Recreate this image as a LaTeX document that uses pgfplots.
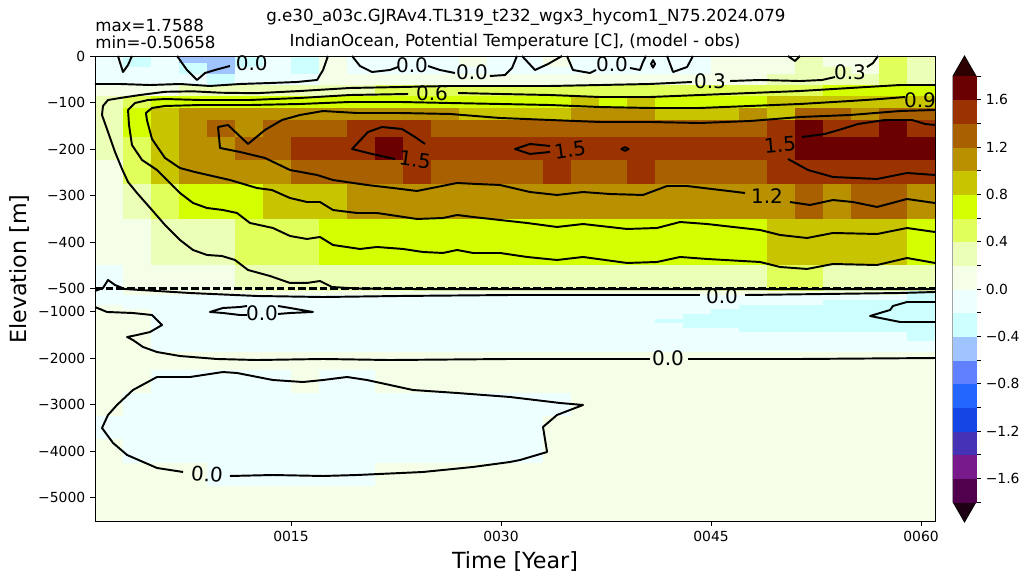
\documentclass[border=0pt]{standalone}
\usepackage{fontspec}
\setmainfont{DejaVu Sans}
\usepackage{pgfplots}
\usepackage{pgfplotstable}
\pgfplotsset{compat=1.18}

\definecolor{cbtop}{RGB}{45,0,0}
\definecolor{cbbot}{RGB}{30,0,20}

% discrete levels from -1.8 to 1.8 in steps of 0.2
\pgfplotsset{
  colormap={tdiff}{
    rgb255=(80,0,76) rgb255=(120,26,140) rgb255=(70,50,180) rgb255=(20,70,230)
    rgb255=(34,102,255) rgb255=(96,128,255) rgb255=(160,196,255) rgb255=(205,255,255)
    rgb255=(238,255,255) rgb255=(245,255,232) rgb255=(235,255,182) rgb255=(224,255,90)
    rgb255=(212,255,0) rgb255=(200,196,0) rgb255=(184,144,0) rgb255=(168,96,0)
    rgb255=(154,51,0) rgb255=(107,0,0)},
  cell/.style={scatter, only marks, mark=square*, mark size=0.5pt,
    scatter/use mapped color={draw=mapped color, fill=mapped color},
    line width=0.3pt},
  isoline/.style={black, line width=1.4pt, line join=round, mark=none},
}
\tikzset{clab/.style={font=\fontsize{14.4}{17}\selectfont, inner sep=0pt}}

% temperature difference: one line per depth level, one column per 2-year bin (centre year)
\pgfplotstableread{
d 2 4 6 8 10 12 14 16 18 20 22 24 26 28 30 32 34 36 38 40 42 44 46 48 50 52 54 56 58 60
r0 -0.1 -0.3 -0.1 -0.5 -0.5 -0.3 -0.1 -0.3 0.1 -0.1 -0.1 -0.1 -0.1 0.1 -0.1 -0.1 0.1 -0.1 -0.1 -0.1 -0.1 -0.1 0.1 0.1 0.1 0.3 0.1 0.1 0.5 0.3
r1 -0.1 -0.3 -0.1 -0.5 -0.5 -0.3 -0.1 -0.3 0.1 -0.1 -0.1 -0.1 -0.1 0.1 -0.1 -0.1 0.1 -0.1 -0.1 -0.1 -0.1 -0.1 0.1 0.1 0.1 0.3 0.1 0.1 0.5 0.3
r2 -0.1 -0.3 -0.1 -0.3 -0.5 -0.3 -0.1 -0.3 0.1 -0.1 -0.1 -0.1 -0.1 0.1 -0.1 -0.1 0.1 -0.1 -0.1 -0.1 -0.1 -0.1 0.1 0.1 0.1 0.3 0.1 0.1 0.5 0.3
r3 -0.1 -0.1 -0.1 -0.3 -0.5 -0.1 -0.1 -0.3 0.1 -0.1 -0.1 -0.1 -0.1 -0.1 -0.1 -0.1 -0.1 -0.1 -0.1 -0.1 -0.1 -0.1 0.1 0.1 0.1 0.3 0.3 0.1 0.5 0.3
r4 -0.1 -0.1 -0.1 -0.1 -0.3 -0.1 -0.1 -0.1 0.1 0.1 0.1 0.1 0.1 0.1 0.1 0.1 0.1 0.1 0.1 0.1 0.1 0.1 0.1 0.1 0.3 0.3 0.3 0.3 0.5 0.3
r5 0.1 0.1 0.1 0.3 0.3 0.3 0.3 0.3 0.3 0.3 0.5 0.5 0.5 0.5 0.5 0.5 0.5 0.5 0.5 0.5 0.5 0.5 0.5 0.5 0.5 0.5 0.7 0.7 0.7 0.7
r6 0.3 0.5 0.7 0.7 0.7 0.7 0.7 0.7 0.7 0.7 0.7 0.7 0.7 0.7 0.7 0.7 0.7 0.9 0.7 0.9 0.7 0.7 0.7 0.7 0.9 0.9 0.9 0.9 0.9 0.9
r7 0.3 0.7 0.9 1.1 1.1 1.1 1.1 1.1 1.1 1.1 1.1 1.1 1.1 0.9 0.9 0.9 0.9 1.1 1.1 1.1 0.9 0.9 0.9 1.1 0.9 1.3 1.3 1.1 1.3 1.3
r8 0.3 0.7 0.9 1.1 1.3 1.1 1.3 1.3 1.3 1.5 1.5 1.5 1.3 1.3 1.3 1.3 1.3 1.3 1.3 1.3 1.3 1.3 1.3 1.3 1.5 1.7 1.5 1.5 1.7 1.5
r9 0.3 0.5 0.9 1.1 1.1 1.3 1.3 1.5 1.5 1.5 1.7 1.5 1.5 1.5 1.5 1.5 1.5 1.5 1.5 1.5 1.5 1.5 1.5 1.5 1.5 1.7 1.7 1.7 1.7 1.7
r10 0.1 0.5 0.9 1.1 1.1 1.1 1.1 1.3 1.3 1.3 1.3 1.5 1.3 1.3 1.3 1.3 1.5 1.3 1.3 1.5 1.3 1.3 1.3 1.3 1.5 1.5 1.5 1.5 1.5 1.5
r11 0.1 0.3 0.5 0.7 0.7 0.7 0.9 0.9 0.9 1.1 1.1 1.1 1.1 1.1 1.1 1.1 1.1 1.1 1.1 1.1 1.1 1.1 1.1 1.1 1.1 1.3 1.1 1.3 1.3 1.1
r12 0.1 0.1 0.3 0.3 0.3 0.5 0.5 0.5 0.7 0.7 0.7 0.7 0.7 0.7 0.7 0.7 0.7 0.7 0.7 0.7 0.7 0.7 0.7 0.7 0.9 0.9 0.9 0.9 0.9 0.7
r13 -0.1 0.1 0.1 0.1 0.1 0.3 0.3 0.3 0.3 0.3 0.3 0.3 0.3 0.3 0.3 0.3 0.3 0.3 0.3 0.3 0.3 0.3 0.3 0.3 0.5 0.5 0.3 0.3 0.3 0.3
r14 -0.1 0.1 0.1 0.1 0.1 0.1 0.1 0.1 0.1 0.1 0.1 0.1 0.1 0.1 0.1 0.1 0.1 0.1 0.1 0.1 0.1 0.1 0.1 0.1 0.1 0.1 0.1 0.1 0.1 -0.3
r15 -0.1 -0.1 -0.1 -0.1 -0.1 -0.1 -0.1 -0.1 -0.1 -0.1 -0.1 -0.1 -0.1 -0.1 -0.1 -0.1 -0.1 -0.1 -0.1 -0.1 -0.1 -0.1 -0.1 -0.1 -0.1 -0.1 -0.1 -0.1 -0.1 -0.3
r16 -0.1 -0.1 -0.1 -0.1 -0.1 -0.1 -0.1 -0.1 -0.1 -0.1 -0.1 -0.1 -0.1 -0.1 -0.1 -0.1 -0.1 -0.1 -0.1 -0.1 -0.1 -0.1 -0.1 -0.1 -0.1 -0.1 -0.3 -0.3 -0.3 -0.3
r17 0.1 -0.1 -0.1 -0.1 -0.1 -0.1 -0.1 -0.1 -0.1 -0.1 -0.1 -0.1 -0.1 -0.1 -0.1 -0.1 -0.1 -0.1 -0.1 -0.1 -0.1 -0.1 -0.1 -0.3 -0.3 -0.3 -0.3 -0.3 -0.3 -0.3
r18 0.1 0.1 -0.1 -0.1 -0.1 -0.1 -0.1 -0.1 -0.1 -0.1 -0.1 -0.1 -0.1 -0.1 -0.1 -0.1 -0.1 -0.1 -0.1 -0.1 -0.1 -0.1 -0.3 -0.3 -0.3 -0.3 -0.3 -0.3 -0.3 -0.3
r19 0.1 0.1 -0.1 -0.1 -0.1 -0.1 -0.1 -0.1 -0.1 -0.1 -0.1 -0.1 -0.1 -0.1 -0.1 -0.1 -0.1 -0.1 -0.1 -0.1 -0.1 -0.3 -0.3 -0.3 -0.3 -0.3 -0.3 -0.3 -0.3 -0.3
r20 0.1 0.1 -0.1 -0.1 -0.1 -0.1 -0.1 -0.1 -0.1 -0.1 -0.1 -0.1 -0.1 -0.1 -0.1 -0.1 -0.1 -0.1 -0.1 -0.1 -0.3 -0.3 -0.3 -0.3 -0.3 -0.3 -0.3 -0.3 -0.3 -0.3
r21 0.1 0.1 -0.1 -0.1 -0.1 -0.1 -0.1 -0.1 -0.1 -0.1 -0.1 -0.1 -0.1 -0.1 -0.1 -0.1 -0.1 -0.1 -0.1 -0.1 -0.1 -0.3 -0.3 -0.3 -0.3 -0.3 -0.3 -0.3 -0.3 -0.3
r22 0.1 0.1 -0.1 -0.1 -0.1 -0.1 -0.1 -0.1 -0.1 -0.1 -0.1 -0.1 -0.1 -0.1 -0.1 -0.1 -0.1 -0.1 -0.1 -0.1 -0.1 -0.1 -0.1 -0.3 -0.3 -0.3 -0.3 -0.3 -0.3 -0.3
r23 0.1 0.1 -0.1 -0.1 -0.1 -0.1 -0.1 -0.1 -0.1 -0.1 -0.1 -0.1 -0.1 -0.1 -0.1 -0.1 -0.1 -0.1 -0.1 -0.1 -0.1 -0.1 -0.1 -0.1 -0.1 -0.1 -0.1 -0.1 -0.1 -0.3
r24 0.1 0.1 -0.1 -0.1 -0.1 -0.1 -0.1 -0.1 -0.1 -0.1 -0.1 -0.1 -0.1 -0.1 -0.1 -0.1 -0.1 -0.1 -0.1 -0.1 -0.1 -0.1 -0.1 -0.1 -0.1 -0.1 -0.1 -0.1 -0.1 -0.1
r25 0.1 0.1 0.1 0.1 0.1 0.1 0.1 0.1 0.1 0.1 0.1 0.1 0.1 0.1 0.1 0.1 0.1 0.1 0.1 0.1 0.1 0.1 0.1 0.1 0.1 0.1 0.1 0.1 0.1 0.1
r26 0.1 0.1 -0.1 -0.1 -0.1 -0.1 -0.1 0.1 -0.1 -0.1 0.1 0.1 0.1 0.1 0.1 0.1 0.1 0.1 0.1 0.1 0.1 0.1 0.1 0.1 0.1 0.1 0.1 0.1 0.1 0.1
r27 0.1 -0.1 -0.1 -0.1 -0.1 -0.1 -0.1 -0.1 -0.1 -0.1 -0.1 -0.1 -0.1 -0.1 -0.1 -0.1 -0.1 0.1 0.1 0.1 0.1 0.1 0.1 0.1 0.1 0.1 0.1 0.1 0.1 0.1
r28 -0.1 -0.1 -0.1 -0.1 -0.1 -0.1 -0.1 -0.1 -0.1 -0.1 -0.1 -0.1 -0.1 -0.1 -0.1 -0.1 0.1 0.1 0.1 0.1 0.1 0.1 0.1 0.1 0.1 0.1 0.1 0.1 0.1 0.1
r29 0.1 -0.1 -0.1 -0.1 -0.1 -0.1 -0.1 -0.1 -0.1 -0.1 -0.1 -0.1 -0.1 -0.1 -0.1 -0.1 0.1 0.1 0.1 0.1 0.1 0.1 0.1 0.1 0.1 0.1 0.1 0.1 0.1 0.1
r30 0.1 0.1 0.1 0.1 -0.1 -0.1 -0.1 -0.1 -0.1 -0.1 0.1 0.1 0.1 0.1 0.1 0.1 0.1 0.1 0.1 0.1 0.1 0.1 0.1 0.1 0.1 0.1 0.1 0.1 0.1 0.1
r31 0.1 0.1 0.1 0.1 0.1 0.1 0.1 0.1 0.1 0.1 0.1 0.1 0.1 0.1 0.1 0.1 0.1 0.1 0.1 0.1 0.1 0.1 0.1 0.1 0.1 0.1 0.1 0.1 0.1 0.1
r32 0.1 0.1 0.1 0.1 0.1 0.1 0.1 0.1 0.1 0.1 0.1 0.1 0.1 0.1 0.1 0.1 0.1 0.1 0.1 0.1 0.1 0.1 0.1 0.1 0.1 0.1 0.1 0.1 0.1 0.1
}\fieldraw
\pgfplotstabletranspose[colnames from=d]\fieldT{\fieldraw}

% one strip of cells: #1 level column, #2 centre (plot units), #3 thickness (plot units)
\newcommand\fieldrow[3]{%
  \addplot[cell, point meta=explicit,
    mark options={xscale=20.16, yscale=#3*0.3348}]
    table[x=colnames, y expr=#2, meta=#1]{\fieldT};}

\begin{document}
\begin{tikzpicture}
\useasboundingbox (-68.4pt,-45.36pt) rectangle (672.48pt,375.12pt);
\begin{axis}[
  at={(0pt,0pt)}, anchor=south west,
  scale only axis, width=604.8pt, height=334.8pt,
  xmin=1, xmax=61, ymin=-1000, ymax=0,
  axis on top, clip marker paths=true,
  colormap access=piecewise constant,
  point meta min=-1.8, point meta max=1.8,
  xtick={15,30,45,60}, xticklabels={0015,0030,0045,0060},
  ytick={0,-100,-200,-300,-400,-500,-550,-650,-750,-850,-950},
  yticklabels={0,−100,−200,−300,−400,−500,−1000,−2000,−3000,−4000,−5000},
  tick pos=left, tick align=outside, major tick length=3.5pt,
  tick style={black, line width=0.6pt},
  axis line style={line width=0.6pt},
  tick label style={font=\fontsize{10}{12}\selectfont},
]
% shaded field (upper 500 m linear, below that compressed tenfold)
\fieldrow{r0}{-2.5}{5}
\fieldrow{r1}{-10}{10}
\fieldrow{r2}{-20}{10}
\fieldrow{r3}{-32.5}{15}
\fieldrow{r4}{-51.25}{22.5}
\fieldrow{r5}{-75}{25}
\fieldrow{r6}{-100}{25}
\fieldrow{r7}{-125}{25}
\fieldrow{r8}{-156.25}{37.5}
\fieldrow{r9}{-200}{50}
\fieldrow{r10}{-250}{50}
\fieldrow{r11}{-312.5}{75}
\fieldrow{r12}{-400}{100}
\fieldrow{r13}{-477.5}{55}
\fieldrow{r14}{-510}{10}
\fieldrow{r15}{-520}{10}
\fieldrow{r16}{-530}{10}
\fieldrow{r17}{-540}{10}
\fieldrow{r18}{-550}{10}
\fieldrow{r19}{-560}{10}
\fieldrow{r20}{-570}{10}
\fieldrow{r21}{-580}{10}
\fieldrow{r22}{-590}{10}
\fieldrow{r23}{-603.75}{17.5}
\fieldrow{r24}{-625}{25}
\fieldrow{r25}{-656.25}{37.5}
\fieldrow{r26}{-700}{50}
\fieldrow{r27}{-750}{50}
\fieldrow{r28}{-800}{50}
\fieldrow{r29}{-850}{50}
\fieldrow{r30}{-900}{50}
\fieldrow{r31}{-950}{50}
\fieldrow{r32}{-987.5}{25}

% contour 0.3
\addplot[isoline] coordinates {(46.36,-53.8) (48.5,-51.6) (51.36,-53.8) (52.93,-51.6) (53.86,-45.2)};
\addplot[isoline] coordinates {(56.14,-23.7) (56.57,-15.1) (56.93,0)};
\addplot[isoline] coordinates {(43.64,-55.9) (40.64,-60.2) (37.07,-62.4) (33.5,-64.5) (29.93,-64.5) (26.36,-64.5) (22.79,-66.7) (19.21,-68.8) (15.64,-75.3) (12.5,-80) (10,-79) (8,-76) (6,-77) (4.21,-83.9) (2.79,-90.3) (1.93,-94.6) (1.57,-107.5) (1.5,-126.9) (1.93,-163.4) (2.43,-206.4) (2.93,-243) (3.36,-271) (4.0,-294.6) (5.07,-331.2) (6.0,-363.4) (7.07,-395.7) (8.0,-417.2) (9.0,-427.9) (10.07,-430.1) (11.0,-438.7) (11.93,-460.2) (13.5,-473.1) (14.93,-488.1) (16.14,-488.1) (17.07,-483.9) (17.93,-496.8) (19.71,-500) (25,-501.5) (35,-501.5) (45,-501.5) (61,-501.5)};
% contour 0.6
\addplot[isoline] coordinates {(61,-62.4) (58.5,-62.4) (54.93,-68.8) (51.36,-75.3) (47.79,-79.6) (44.21,-83.9) (40.64,-88.2) (37.07,-88.2) (33.5,-83.9) (29.93,-81.7) (26.93,-79.6)};
\addplot[isoline] coordinates {(23.36,-81.7) (19.21,-83.9) (15.64,-90.3) (12.07,-94.6) (8.5,-94.6) (6.0,-92.5) (4.79,-94.6) (3.86,-101.1) (3.36,-116.1) (3.43,-148.4) (3.64,-191.4) (4.36,-223.7) (5.43,-245.2) (6.36,-273.1) (7.07,-294.6) (8.0,-316.1) (9.0,-326.9) (10.14,-331.2) (11.14,-337.6) (12.07,-359.1) (13.71,-369.9) (14.93,-387.1) (16.14,-393.5) (17.07,-389.2) (18.0,-406.4) (19.93,-415) (21.14,-410.7) (23.0,-415) (24.43,-421.5) (25.86,-423.6) (26.86,-417.2) (28.0,-423.6) (29.93,-423.6) (31.86,-432.2) (34.0,-438.7) (35.86,-432.2) (39.0,-445.1) (41.14,-443) (42.79,-432.2) (44.71,-436.5) (48.5,-443) (49.93,-453.7) (51.86,-458) (53.71,-447.3) (56.86,-449.5) (59.0,-434.4) (61,-445.1)};
% contour 0.9
\addplot[isoline] coordinates {(58.86,-88.2) (57.07,-92.5) (54.93,-96.8) (51.36,-103.2) (47.79,-107.5) (44.21,-111.8) (40.64,-111.8) (37.07,-109.7) (33.5,-105.4) (29.93,-103.2) (26.36,-101.1) (22.79,-98.9) (19.21,-98.9) (15.64,-103.2) (12.07,-105.4) (8.5,-105.4) (6.0,-107.5) (5.07,-111.8) (4.64,-122.6) (4.71,-137.6) (5.07,-178.5) (6.0,-219.3) (7.07,-240.9) (8.14,-249.5) (10.64,-266.7) (12.57,-283.9) (13.64,-288.2) (14.93,-305.4) (16.14,-314) (17.07,-314) (18.0,-331.2) (19.71,-337.6) (21.14,-337.6) (24.0,-350.5) (25.86,-348.4) (26.86,-341.9) (28.0,-346.2) (29.93,-352.7) (31.86,-359.1) (34.0,-367.7) (35.86,-361.3) (39.0,-372) (41.14,-369.9) (42.79,-357) (44.71,-361.3) (48.5,-374.2) (49.93,-384.9) (51.86,-391.4) (53.71,-380.6) (56.86,-382.8) (59.0,-369.9) (61,-378.5)};
% contour 1.2
\addplot[isoline] coordinates {(61,-116.1) (58.5,-118.3) (54.93,-126.9) (51.36,-131.2) (47.79,-139.8) (44.21,-144.1) (40.64,-141.9) (37.07,-141.9) (33.5,-137.6) (29.93,-133.3) (26.36,-124.7) (22.79,-122.6) (19.71,-122.6) (17.29,-118.3) (15.64,-126.9) (14.36,-137.6) (13.14,-159.1) (11.93,-189.2) (10.5,-148.4) (9.79,-152.7) (9.93,-197.8) (11.36,-206.4) (13.14,-219.3) (14.93,-245.2) (16.86,-255.9) (18.0,-266.7) (20.43,-277.4) (22.29,-283.9) (24.0,-290.3) (25.43,-281.7) (26.86,-273.1) (28.29,-275.3) (29.93,-277.4) (32.07,-292.5) (34.0,-298.9) (35.86,-292.5) (37.79,-296.8) (40.14,-298.9) (41.86,-279.6) (43.29,-279.6) (47.43,-294.6)};
\addplot[isoline] coordinates {(50.64,-314) (52.07,-320.4) (53.71,-309.7) (55.14,-314) (56.86,-324.7) (59.0,-307.5) (61,-316.1)};
% contour 1.5
\addplot[isoline] coordinates {(24.57,-189.2) (23.86,-174.2) (22.93,-157) (21.5,-152.7) (20.5,-163.4) (19.36,-200) (20.79,-210.7) (22.43,-221.5)};
\addplot[isoline] coordinates {(33.5,-193.5) (32.07,-189.2) (31.0,-200) (32.07,-210.7) (33.5,-206.4)};
\addplot[isoline] coordinates {(38.6,-200) (38.86,-196) (39.12,-200) (38.86,-204)} -- cycle;
\addplot[isoline] coordinates {(51.5,-174.2) (53.14,-167.7) (54.36,-157) (55.5,-146.2) (57.43,-137.6) (59.36,-137.6) (60.29,-146.2) (61,-148.4)};
\addplot[isoline] coordinates {(50.5,-221.5) (51.93,-245.2) (53.71,-260.2) (56.86,-264.5) (59.0,-251.6) (61,-255.9)};
% contour 0.0 near the surface
\addplot[isoline] coordinates {(1,-60.2) (2.79,-60.2) (4.93,-62.4) (7.07,-60.2) (9.21,-64.5) (11.36,-60.2) (13.5,-58.1) (15.43,-55.9) (16.86,-51.6) (17.29,-30.1) (17.64,0)};
\addplot[isoline] coordinates {(2.64,0) (3.0,-34.4) (3.36,-19.4) (3.64,0)};
\addplot[isoline] coordinates {(6.86,0) (7.57,-30.1) (8.29,-51.6) (8.86,-36.6) (9.57,-30.1) (10.64,-21.5)};
\addplot[isoline] coordinates {(19.36,0) (19.93,-21.5) (20.79,-34.4) (22.07,-30.1) (22.64,-23.7)};
\addplot[isoline] coordinates {(24.79,-21.5) (25.64,-30.1) (26.71,-36.6)};
\addplot[isoline] coordinates {(29.21,-43) (30.29,-40.9) (30.79,-25.8) (31.14,0)};
\addplot[isoline] coordinates {(31.5,0) (32.43,-30.1) (33.36,-17.2) (34.36,0)};
\addplot[isoline] coordinates {(34.71,0) (35.14,-30.1) (36.36,-36.6) (36.79,-30.1)};
\addplot[isoline] coordinates {(39.21,-25.8) (39.93,-30.1) (40.14,-12.9) (40.36,0)};
\addplot[isoline] coordinates {(40.72,-17) (40.86,-9) (41.0,-17) (40.86,-25)} -- cycle;
\addplot[isoline] coordinates {(41.86,0) (42.29,-34.4) (43.29,-23.7) (43.71,0)};
\addplot[isoline] coordinates {(50.5,0) (51.0,-10.8) (51.36,0)};
% deep contours
\addplot[isoline] coordinates {(1,-505.4) (1.57,-498.9) (1.93,-481.7) (2.43,-492.5) (3.14,-501.1) (7.79,-509.7) (12.57,-516.1) (17.29,-518.3) (22.79,-516.1) (30.64,-514) (44.21,-514)};
\addplot[isoline] coordinates {(47.43,-514) (58.5,-509.7) (61,-507.5)};
\addplot[isoline] coordinates {(11.86,-537.6) (11.36,-539.8) (10.14,-541.9) (9.21,-550.5) (10.14,-552.7) (11.36,-557) (11.86,-557)};
\addplot[isoline] coordinates {(14.07,-537.6) (14.93,-541.9) (16.57,-550.5) (14.93,-552.7) (14.07,-554.8)};
\addplot[isoline] coordinates {(1,-539.8) (1.86,-550.5) (3.71,-552.7) (5.07,-557) (5.43,-567.8) (5.79,-578.5) (4.93,-593.6) (4.0,-600) (3.29,-604.4) (3.71,-610.8) (4.43,-625.8) (5.43,-636.6) (7.07,-645.2) (9.71,-651.6) (12.57,-653.8) (17.29,-651.6) (22.07,-653.8) (30.64,-651.6) (40.64,-651.6)};
\addplot[isoline] coordinates {(43.36,-651.6) (51.36,-651.6) (61,-649.5)};
\addplot[isoline] coordinates {(61,-529) (59.0,-529) (58.0,-537.6) (57.79,-546.2) (57.07,-552.7) (56.36,-559.1) (58.5,-572) (61,-572)};
\addplot[isoline] coordinates {(7.29,-894.6) (5.43,-886) (3.29,-858) (2.29,-832.2) (1.5,-800) (1.93,-772) (2.57,-750.5) (3.71,-718.3) (5.43,-690.3) (7.79,-690.3) (10.14,-679.6) (11.14,-681.7) (13.71,-696.8) (15.86,-701.1) (17.29,-696.8) (19.0,-690.3) (20.43,-696.8) (23.71,-718.3) (26.86,-724.7) (30.64,-733.3) (34.21,-746.2) (35.86,-750.5) (34.0,-772) (33.0,-797.8) (33.29,-851.6) (31.36,-868.8) (30.64,-873.1) (28.0,-883.8) (24.43,-894.6) (19.71,-901.1) (17.29,-903.2) (13.71,-901.1) (10.64,-903.2)};
% break between the two depth scales
\addplot[black, line width=1.6pt, dash pattern=on 5.5pt off 2.2pt] coordinates {(1,-500) (61,-500)};

% contour labels
\node[clab] at (axis cs:12.2,-15) {0.0};
\node[clab] at (axis cs:23.64,-19.4) {0.0};
\node[clab] at (axis cs:27.93,-34.4) {0.0};
\node[clab] at (axis cs:37.93,-17.2) {0.0};
\node[clab] at (axis cs:44.93,-53.8) {0.3};
\node[clab] at (axis cs:54.93,-34.4) {0.3};
\node[clab] at (axis cs:25.07,-79.6) {0.6};
\node[clab] at (axis cs:59.93,-94.6) {0.9};
\node[clab] at (axis cs:49.0,-301.1) {1.2};
\node[clab, rotate=-8] at (axis cs:23.86,-223.7) {1.5};
\node[clab, rotate=8] at (axis cs:34.93,-202.1) {1.5};
\node[clab, rotate=5] at (axis cs:49.93,-191.4) {1.5};
\node[clab] at (axis cs:12.93,-553) {0.0};
\node[clab] at (axis cs:45.79,-516.1) {0.0};
\node[clab] at (axis cs:41.93,-649.5) {0.0};
\node[clab, rotate=-4] at (axis cs:9.0,-898.9) {0.0};
\end{axis}

% colour bar
\begin{axis}[
  at={(617.76pt,13.68pt)}, anchor=south west,
  scale only axis, width=16.56pt, height=306.72pt,
  xmin=0, xmax=1, ymin=-1.8, ymax=1.8, clip=false,
  colormap access=piecewise constant,
  point meta min=-1.8, point meta max=1.8,
  axis line style={draw=none}, xtick=\empty,
  ytick={-1.8,-1.6,-1.4,-1.2,-1.0,-0.8,-0.6,-0.4,-0.2,0,0.2,0.4,0.6,0.8,1.0,1.2,1.4,1.6,1.8},
  yticklabels={,−1.6,,−1.2,,−0.8,,−0.4,,0.0,,0.4,,0.8,,1.2,,1.6,},
  ytick pos=right, yticklabel pos=right,
  tick align=outside, major tick length=3.5pt,
  tick style={black, line width=0.6pt},
  tick label style={font=\fontsize{10}{12}\selectfont},
]
\addplot[cell, point meta=y, mark options={xscale=16.56, yscale=17.04}] coordinates {
  (0.5,-1.7) (0.5,-1.5) (0.5,-1.3) (0.5,-1.1) (0.5,-0.9) (0.5,-0.7) (0.5,-0.5) (0.5,-0.3) (0.5,-0.1)
  (0.5,0.1) (0.5,0.3) (0.5,0.5) (0.5,0.7) (0.5,0.9) (0.5,1.1) (0.5,1.3) (0.5,1.5) (0.5,1.7)};
\addplot[fill=cbtop, draw=none] coordinates {(0,1.8) (1,1.8) (0.5,1.969)} -- cycle;
\addplot[fill=cbbot, draw=none] coordinates {(0,-1.8) (1,-1.8) (0.5,-1.969)} -- cycle;
\addplot[black, line width=0.6pt] coordinates {(0,-1.8) (0.5,-1.969) (1,-1.8) (1,1.8) (0.5,1.969) (0,1.8)} -- cycle;
\end{axis}

% titles and axis labels
\node[anchor=west, font=\fontsize{12}{14}\selectfont, inner sep=0pt] at (0pt,357.1pt) {max=1.7588};
\node[anchor=west, font=\fontsize{12}{14}\selectfont, inner sep=0pt] at (0pt,344.9pt) {min=-0.50658};
\node[font=\fontsize{12}{14}\selectfont, inner sep=0pt] at (310.3pt,362.9pt) {g.e30\_a03c.GJRAv4.TL319\_t232\_wgx3\_hycom1\_N75.2024.079};
\node[font=\fontsize{12}{14}\selectfont, inner sep=0pt] at (302.4pt,344.9pt) {IndianOcean, Potential Temperature [C], (model - obs)};
\node[rotate=90, font=\fontsize{16}{19}\selectfont, inner sep=0pt] at (-54pt,181.4pt) {Elevation [m]};
\node[font=\fontsize{16}{19}\selectfont, inner sep=0pt] at (302.4pt,-29.5pt) {Time [Year]};
\end{tikzpicture}
\end{document}
